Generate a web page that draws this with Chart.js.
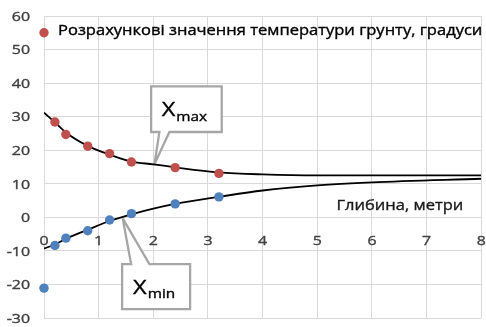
<!DOCTYPE html>
<html>
<head>
<meta charset="utf-8">
<script src="https://cdn.jsdelivr.net/npm/chart.js@4"></script>
<style>
  html, body { margin: 0; padding: 0; background: #ffffff; }
  #wrap { width: 486px; height: 327px; }
</style>
</head>
<body>
<div id="wrap"><canvas id="chart" width="486" height="327"></canvas></div>
<script>
// Measured soil temperatures by depth
const depths   = [0, 0.2, 0.4, 0.8, 1.2, 1.6, 2.4, 3.2];
const maxTemps = [55, 28.4, 24.7, 21.2, 19.0, 16.5, 14.8, 13.1];
const minTemps = [-21.1, -8.4, -6.2, -4.0, -0.8, 1.1, 4.0, 6.1];

// Calculated envelope curves
const curveDepths = [0, 0.2, 0.4, 0.8, 1.2, 1.6, 2.0, 2.4, 3.2, 4, 5, 6, 8];
const maxCurve    = [31.2, 28.3, 25.3, 21.3, 18.7, 16.6, 15.8, 14.9, 13.4, 12.8, 12.5, 12.5, 12.5];
const minCurve    = [-9.3, -8.1, -6.4, -3.7, -1.1, 0.9, 2.6, 4.0, 6.1, 8.0, 9.5, 10.4, 11.5];

// Axis ticks
const xTicks = [0, 1, 2, 3, 4, 5, 6, 7, 8];
const yTicks = [-30, -20, -10, 0, 10, 20, 30, 40, 50, 60];

// Texts
const seriesLabel = 'Розрахункові значення температури грунту, градуси';
const xTitle = 'Глибина, метри';
const callouts = [
  { main: 'X', sub: 'max', x: 2.02, y: 15.8 },
  { main: 'X', sub: 'min', x: 1.44, y: -0.3 }
];

const FONT = '"Open Sans", "Noto Sans", sans-serif';
const STRETCH = 1.18;

function wideText(ctx, str, x, y, align, size, color) {
  ctx.save();
  ctx.font = size + 'px ' + FONT;
  ctx.fillStyle = color;
  ctx.strokeStyle = color;
  ctx.lineWidth = 0.35;
  ctx.textAlign = align;
  ctx.textBaseline = 'alphabetic';
  ctx.translate(x, y);
  ctx.scale(STRETCH, 1);
  ctx.fillText(str, 0, 0);
  ctx.strokeText(str, 0, 0);
  ctx.restore();
}

function textWidth(ctx, str, size) {
  ctx.save();
  ctx.font = size + 'px ' + FONT;
  const w = ctx.measureText(str).width * STRETCH;
  ctx.restore();
  return w;
}

// Callout shapes with a pointer to a spot on the curve
const calloutShapes = [
  { left: -3.3, right: 67.3, top: -78, bottom: -32.3, edge: 'bottom', p0: 5, p1: 15 },
  { left: -0.6, right: 67.4, top: 45.7, bottom: 90.7, edge: 'top', p0: 8.4, p1: 26.7 }
];

const decorPlugin = {
  id: 'decor',
  beforeDatasetsDraw(chart) {
    const ctx = chart.ctx;
    const xs = chart.scales.x, ys = chart.scales.y;
    callouts.forEach((c, i) => {
      const tx = xs.getPixelForValue(c.x), ty = ys.getPixelForValue(c.y);
      const s = calloutShapes[i];
      const L = tx + s.left, R = tx + s.right, T = ty + s.top, B = ty + s.bottom;
      ctx.save();
      ctx.beginPath();
      if (s.edge === 'bottom') {
        ctx.moveTo(L, T); ctx.lineTo(R, T); ctx.lineTo(R, B);
        ctx.lineTo(tx + s.p1, B); ctx.lineTo(tx, ty); ctx.lineTo(tx + s.p0, B);
        ctx.lineTo(L, B);
      } else {
        ctx.moveTo(L, T); ctx.lineTo(tx + s.p0, T); ctx.lineTo(tx, ty);
        ctx.lineTo(tx + s.p1, T); ctx.lineTo(R, T); ctx.lineTo(R, B);
        ctx.lineTo(L, B);
      }
      ctx.closePath();
      ctx.fillStyle = '#ffffff';
      ctx.fill();
      ctx.lineWidth = 2.3;
      ctx.lineJoin = 'miter';
      ctx.miterLimit = 2;
      ctx.strokeStyle = '#a6a6a6';
      ctx.stroke();
      ctx.restore();

      const wMain = textWidth(ctx, c.main, 20);
      const wSub = textWidth(ctx, c.sub, 13);
      const start = (L + R) / 2 - (wMain + wSub + 1) / 2 - 2;
      const base = T + 30;
      wideText(ctx, c.main, start, base, 'left', 20, '#000000');
      wideText(ctx, c.sub, start + wMain + 1, base + 4.3, 'left', 13, '#000000');
    });
  },
  afterDraw(chart) {
    const ctx = chart.ctx;
    const xs = chart.scales.x, ys = chart.scales.y;
    const y0 = ys.getPixelForValue(0);
    ys.ticks.forEach(t => {
      wideText(ctx, String(t.value), 30, ys.getPixelForValue(t.value) + 4.8, 'right', 13.5, '#404040');
    });
    xs.ticks.forEach(t => {
      wideText(ctx, String(t.value), xs.getPixelForValue(t.value), y0 + 27.5, 'center', 13.5, '#404040');
    });
    // series caption next to its marker
    const lx = xs.getPixelForValue(depths[0]) + 14;
    const ly = ys.getPixelForValue(maxTemps[0]) + 1.8;
    wideText(ctx, seriesLabel, lx, ly, 'left', 14, '#000000');
    // axis caption
    wideText(ctx, xTitle, chart.chartArea.right - 18, y0 - 7, 'right', 14, '#1a1a1a');
  }
};

const toXY = (xsArr, ysArr) => xsArr.map((x, i) => ({ x: x, y: ysArr[i] }));

new Chart(document.getElementById('chart'), {
  type: 'scatter',
  data: {
    datasets: [
      { label: seriesLabel, data: toXY(depths, maxTemps), backgroundColor: '#c0504d',
        pointRadius: 4.7, pointBorderWidth: 0, showLine: false, clip: false, order: 1 },
      { label: 'min', data: toXY(depths, minTemps), backgroundColor: '#4f81bd',
        pointRadius: 4.7, pointBorderWidth: 0, showLine: false, clip: false, order: 1 },
      { label: 'max curve', data: toXY(curveDepths, maxCurve), showLine: true, pointRadius: 0,
        borderColor: '#000000', borderWidth: 1.8, cubicInterpolationMode: 'monotone', order: 2 },
      { label: 'min curve', data: toXY(curveDepths, minCurve), showLine: true, pointRadius: 0,
        borderColor: '#000000', borderWidth: 1.8, cubicInterpolationMode: 'monotone', order: 2 }
    ]
  },
  options: {
    responsive: false,
    animation: false,
    devicePixelRatio: 1,
    layout: { padding: { left: 0, right: 4, top: 16, bottom: 9 } },
    plugins: { legend: { display: false }, tooltip: { enabled: false } },
    scales: {
      x: {
        type: 'linear', min: 0, max: 8,
        position: { y: 0 },
        afterBuildTicks: s => { s.ticks = xTicks.map(v => ({ value: v })); },
        grid: { color: '#d9d9d9', lineWidth: 1, drawTicks: false },
        border: { color: '#d9d9d9', width: 1 },
        ticks: { display: false }
      },
      y: {
        type: 'linear', min: -30, max: 60,
        afterBuildTicks: s => { s.ticks = yTicks.map(v => ({ value: v })); },
        afterFit: s => { s.width = 44; },
        grid: { color: '#d9d9d9', lineWidth: 1, drawTicks: false },
        border: { color: '#d9d9d9', width: 1 },
        ticks: { display: false }
      }
    }
  },
  plugins: [decorPlugin]
});
</script>
</body>
</html>
